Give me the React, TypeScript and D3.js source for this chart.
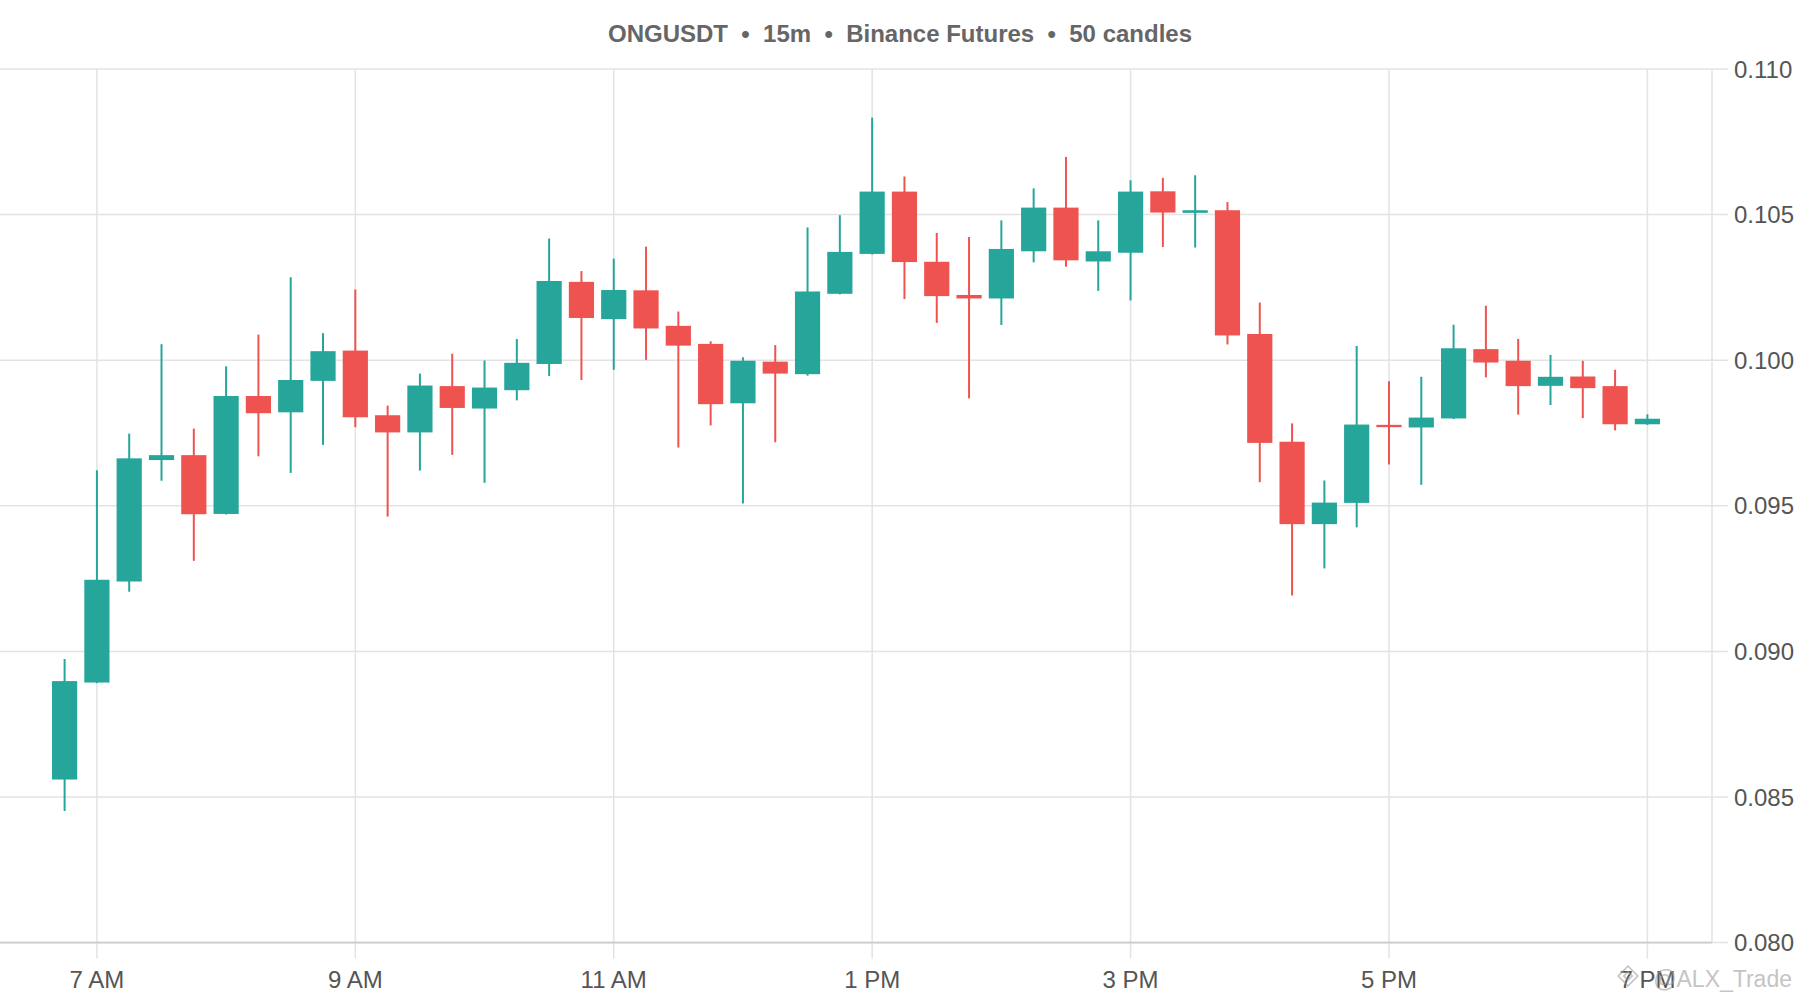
import React from "react";
import * as d3 from "d3";

const times: string[] = [
  "06:45","07:00","07:15","07:30","07:45","08:00","08:15","08:30","08:45","09:00",
  "09:15","09:30","09:45","10:00","10:15","10:30","10:45","11:00","11:15","11:30",
  "11:45","12:00","12:15","12:30","12:45","13:00","13:15","13:30","13:45","14:00",
  "14:15","14:30","14:45","15:00","15:15","15:30","15:45","16:00","16:15","16:30",
  "16:45","17:00","17:15","17:30","17:45","18:00","18:15","18:30","18:45","19:00",
];
const opens: number[] = [
  0.0856,0.08893,0.0924,0.09657,0.09674,0.09472,0.09877,0.09821,0.09929,0.10033,
  0.09811,0.09752,0.09911,0.09834,0.09897,0.09987,0.10269,0.10141,0.1024,0.10118,
  0.10056,0.09852,0.09995,0.09952,0.10228,0.10365,0.10579,0.10338,0.10224,0.10212,
  0.10374,0.10524,0.10339,0.10369,0.1058,0.10506,0.10515,0.1009,0.0972,0.09437,
  0.0951,0.09778,0.09769,0.098,0.10038,0.09998,0.09912,0.09944,0.09911,0.0978,
];
const highs: number[] = [
  0.08974,0.09622,0.09748,0.10055,0.09765,0.09979,0.10088,0.10285,0.10093,0.10243,
  0.09844,0.09954,0.10022,0.09999,0.10073,0.10418,0.10306,0.10349,0.1039,0.10167,
  0.10065,0.1001,0.10052,0.10456,0.10498,0.10833,0.10631,0.10437,0.10423,0.1048,
  0.1059,0.10698,0.1048,0.10618,0.10626,0.10635,0.10543,0.10198,0.09783,0.09587,
  0.10049,0.09928,0.09943,0.10122,0.10187,0.10073,0.10018,0.09998,0.09967,0.09814,
];
const lows: number[] = [
  0.08452,0.08891,0.09205,0.09586,0.09311,0.0947,0.0967,0.09613,0.09709,0.0977,
  0.09463,0.09621,0.09675,0.09579,0.09862,0.09946,0.09932,0.09967,0.10001,0.097,
  0.09776,0.09508,0.09718,0.09947,0.10226,0.10363,0.1021,0.10128,0.09869,0.10121,
  0.10336,0.10321,0.10238,0.10205,0.10389,0.10387,0.10054,0.09581,0.09192,0.09285,
  0.09426,0.09642,0.09572,0.09798,0.09941,0.09813,0.09846,0.09801,0.09759,0.09778,
];
const closes: number[] = [
  0.08898,0.09246,0.09663,0.09674,0.09471,0.09877,0.09818,0.09932,0.10031,0.09804,
  0.09752,0.09913,0.09836,0.09906,0.09991,0.10272,0.10145,0.10241,0.10109,0.1005,
  0.09849,0.09998,0.09954,0.10236,0.10372,0.10579,0.10337,0.1022,0.10212,0.10382,
  0.10524,0.10343,0.10374,0.10579,0.10507,0.10515,0.10085,0.09716,0.09437,0.09511,
  0.09779,0.0977,0.09803,0.10041,0.09992,0.09911,0.09943,0.09904,0.0978,0.09799,
];
const priceTicks: number[] = [0.08, 0.085, 0.09, 0.095, 0.1, 0.105, 0.11];
const timeTicks: string[] = ["07:00", "09:00", "11:00", "13:00", "15:00", "17:00", "19:00"];
const timeDomain: string[] = ["06:15", "19:30"];
const title = "ONGUSDT  \u2022  15m  \u2022  Binance Futures  \u2022  50 candles";
const watermark = "@ALX_Trade";

const toDate = (s: string) => {
  const [h, m] = s.split(":").map(Number);
  return new Date(2024, 0, 15, h, m);
};

const W = 1800;
const H = 1000;
const plot = { left: 0, right: 1712, top: 69, bottom: 942.6 };
const UP = "#26a69a";
const DOWN = "#ef5350";
const FONT = "'Liberation Sans', Arial, Helvetica, sans-serif";

export default function App() {
  const x = d3.scaleTime().domain(timeDomain.map(toDate)).range([plot.left, plot.right]);
  const y = d3.scaleLinear().domain([0.08, 0.11]).range([plot.bottom, plot.top]);
  const fmtTime = d3.timeFormat("%-I %p");
  const fmtPrice = d3.format(".3f");
  const step = x(toDate("07:00")) - x(toDate("06:45"));
  const bodyW = step * 0.78;

  return (
    <div style={{ position: "absolute", left: 0, top: 0, width: W, height: H, background: "#fff" }}>
      <svg width={W} height={H} style={{ display: "block", fontFamily: FONT }}>
        <rect x={0} y={0} width={W} height={H} fill="#fff" />
        {priceTicks.map((p) => (
          <line key={"h" + p} x1={plot.left} x2={plot.right + 16} y1={y(p)} y2={y(p)} stroke="#e3e3e3" strokeWidth={1.5} />
        ))}
        {timeTicks.map((t) => (
          <line key={"v" + t} x1={x(toDate(t))} x2={x(toDate(t))} y1={plot.top} y2={plot.bottom + 16} stroke="#e3e3e3" strokeWidth={1.5} />
        ))}
        <line x1={plot.right} x2={plot.right} y1={plot.top} y2={plot.bottom} stroke="#e3e3e3" strokeWidth={1.5} />
        <line x1={plot.left} x2={plot.right} y1={plot.bottom} y2={plot.bottom} stroke="#cccccc" strokeWidth={1.8} />

        {times.map((t, i) => {
          const cx = x(toDate(t));
          const o = opens[i], c = closes[i], hi = highs[i], lo = lows[i];
          const col = c >= o ? UP : DOWN;
          const yt = y(Math.max(o, c));
          const yb = y(Math.min(o, c));
          return (
            <g key={t}>
              <line x1={cx} x2={cx} y1={y(hi)} y2={y(lo)} stroke={col} strokeWidth={2} />
              <rect x={cx - bodyW / 2} y={yt} width={bodyW} height={Math.max(2, yb - yt)} fill={col} />
            </g>
          );
        })}

        {priceTicks.map((p) => (
          <text key={"yl" + p} x={plot.right + 22} y={y(p)} dominantBaseline="central" fontSize={24} fill="#555">
            {fmtPrice(p)}
          </text>
        ))}
        {timeTicks.map((t) => (
          <text key={"xl" + t} x={x(toDate(t))} y={988} textAnchor="middle" fontSize={24} fill="#555">
            {fmtTime(toDate(t))}
          </text>
        ))}

        <text x={W / 2} y={42} textAnchor="middle" fontSize={24} fontWeight="bold" fill="#666" style={{ whiteSpace: "pre" }}>
          {title}
        </text>

        <g opacity={0.6}>
          <g transform="translate(1628,976) rotate(45)" fill="none" stroke="#9e9e9e" strokeWidth={1.6}>
            <rect x={-7} y={-7} width={14} height={14} />
            <rect x={-3} y={-3} width={6} height={6} />
          </g>
          <text x={1792} y={987} textAnchor="end" fontSize={23} fill="#9e9e9e">
            {watermark}
          </text>
        </g>
      </svg>
    </div>
  );
}
